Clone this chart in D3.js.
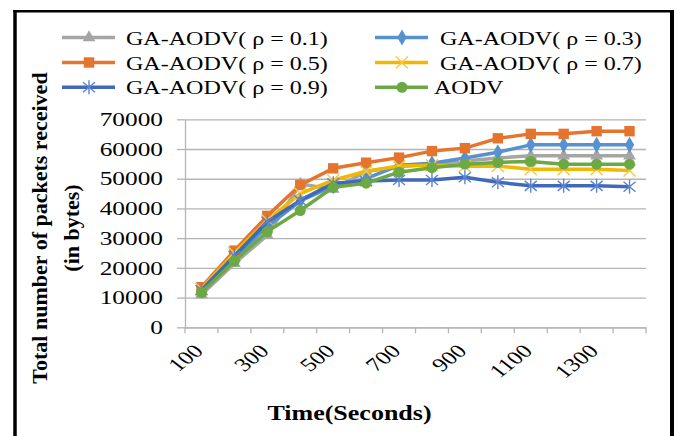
<!DOCTYPE html>
<html lang="en">
<head>
    <meta charset="UTF-8">
    <title>Packets received</title>
    <script src="https://d3js.org/d3.v7.min.js"></script>
    <style>
        body { margin: 0; background: #fff; }
        text { font-family: "Liberation Serif", "Times New Roman", serif; fill: #000; }
    </style>
</head>
<body>

<script>
    // categories (seconds) and axis ticks
    times = [100, 200, 300, 400, 500, 600, 700, 800, 900, 1000, 1100, 1200, 1300, 1400]
    xLabels = [100, 300, 500, 700, 900, 1100, 1300]
    yTicks = [0, 10000, 20000, 30000, 40000, 50000, 60000, 70000]

    // series values
    rho01 = [11000, 21500, 31000, 48200, 46500, 52400, 54000, 55000, 56000, 57000, 57700, 57700, 57700, 57700]
    rho03 = [12500, 23500, 34000, 42500, 47500, 50000, 54500, 55200, 57000, 58900, 61400, 61400, 61400, 61400]
    rho05 = [13500, 25800, 37500, 47900, 53500, 55400, 57100, 59300, 60300, 63600, 65100, 65100, 66000, 66000]
    rho07 = [13000, 25000, 36000, 45000, 49500, 52500, 54300, 54500, 54200, 54300, 53200, 53200, 53200, 52800]
    rho09 = [12500, 24000, 35500, 42700, 48500, 49200, 49600, 49600, 50500, 48800, 47600, 47600, 47600, 47300]
    aodv  = [11700, 22300, 32200, 39300, 47100, 48500, 52200, 53700, 54900, 55500, 55800, 54900, 54900, 54900]

    seriesNames = ["GA-AODV( \u03c1 = 0.1)", "GA-AODV( \u03c1 = 0.3)", "GA-AODV( \u03c1 = 0.5)",
                   "GA-AODV( \u03c1 = 0.7)", "GA-AODV( \u03c1 = 0.9)", "AODV"]
    seriesValues = [rho01, rho03, rho05, rho07, rho09, aodv]
    colors = ["#A5A5A5", "#5592CF", "#E5742F", "#F0B800", "#4169BA", "#6AA943"]
    markers = ["triangle", "diamond", "square", "cross", "star", "circle"]

    series = seriesNames.map((n, i) => ({label: n, values: seriesValues[i], color: colors[i], marker: markers[i]}))

    W = 678
    H = 436
    stretch = 1.3   // text in the picture is drawn wider than normal

    svg = d3.select("body")
        .append("svg")
        .attr("width", W)
        .attr("height", H)

    //outer frame (no bottom edge visible)
    svg.append("line").attr("x1", 15).attr("y1", 10).attr("x2", 15).attr("y2", H)
        .attr("stroke", "#000").attr("stroke-width", 3.5)
    svg.append("line").attr("x1", 13.3).attr("y1", 11.2).attr("x2", 674).attr("y2", 11.2)
        .attr("stroke", "#000").attr("stroke-width", 2.5)
    svg.append("line").attr("x1", 672).attr("y1", 10).attr("x2", 672).attr("y2", H)
        .attr("stroke", "#000").attr("stroke-width", 4)

    //scales
    x = d3.scaleBand()
        .domain(times)
        .range([185, 646])

    y = d3.scaleLinear()
        .domain([0, 70000])
        .range([327.3, 119.3])

    gridColor = "#b4b4b4"

    //gridlines
    svg.append("g")
        .attr("transform", "translate(185,0)")
        .call(d3.axisLeft(y).tickValues(yTicks).tickSize(-(646 - 185)).tickFormat(""))
        .call(g => g.select(".domain").remove())
        .selectAll("line")
        .attr("stroke", gridColor)
        .attr("stroke-width", 1.3)

    //y axis
    yAxis = svg.append("g")
        .attr("transform", "translate(185,0)")
        .call(d3.axisLeft(y).tickValues(yTicks).tickSize(8).tickSizeOuter(0).tickFormat(d3.format("d")))
    yAxis.select(".domain").attr("stroke", gridColor).attr("stroke-width", 1.3)
    yAxis.selectAll(".tick line").attr("stroke", gridColor).attr("stroke-width", 1.3)
    yAxis.selectAll(".tick text")
        .attr("x", 0)
        .attr("font-size", 19.5)
        .attr("fill", "#111")
        .attr("transform", "translate(-22,0) scale(" + stretch + ",1)")

    //x axis
    xAxis = svg.append("g")
        .attr("transform", "translate(0," + y(0) + ")")
        .call(d3.axisBottom(x).tickSize(0).tickSizeOuter(0)
            .tickFormat(d => xLabels.includes(d) ? d : ""))
    xAxis.select(".domain").attr("stroke", gridColor).attr("stroke-width", 1.3)
    xAxis.selectAll(".tick text")
        .attr("y", 0)
        .attr("dy", 0)
        .attr("font-size", 19)
        .attr("fill", "#111")
        .attr("text-anchor", "end")
        .attr("transform", "translate(3,25) scale(" + stretch + ",1) rotate(-45)")

    // tick marks sit between categories
    xAxis.selectAll("line.mark")
        .data(times.map(t => x(t)).concat([x.range()[1]]))
        .join("line")
        .attr("class", "mark")
        .attr("x1", d => d).attr("x2", d => d)
        .attr("y1", 0).attr("y2", 6)
        .attr("stroke", gridColor)
        .attr("stroke-width", 1.3)

    //marker shapes
    function drawMarker(g, type, color) {
        if (type == "triangle") {
            g.append("path").attr("d", d3.symbol(d3.symbolTriangle, 70)()).attr("fill", color)
        } else if (type == "diamond") {
            g.append("path").attr("d", d3.symbol(d3.symbolDiamond, 75)()).attr("fill", color)
        } else if (type == "square") {
            g.append("rect").attr("x", -5.2).attr("y", -5.2).attr("width", 10.4).attr("height", 10.4)
                .attr("fill", color)
        } else if (type == "circle") {
            g.append("circle").attr("r", 5.5).attr("fill", color)
        } else if (type == "cross") {
            g.append("path").attr("d", "M-6,-6L6,6M-6,6L6,-6")
                .attr("stroke", "#F5C842").attr("stroke-width", 1.4).attr("fill", "none")
        } else if (type == "star") {
            g.append("path").attr("d", "M0,-7L0,7M-6,-5L6,5M-6,5L6,-5")
                .attr("stroke", "#5C84CF").attr("stroke-width", 1.4).attr("fill", "none")
        }
    }

    line = d3.line()
        .x((d, i) => x(times[i]) + x.bandwidth() / 2)
        .y(d => y(d))

    //series lines and markers
    series.forEach(s => {
        svg.append("path")
            .datum(s.values)
            .attr("d", line)
            .attr("fill", "none")
            .attr("stroke", s.color)
            .attr("stroke-width", 3.5)
            .attr("stroke-linejoin", "round")

        svg.append("g").selectAll("g")
            .data(s.values)
            .join("g")
            .attr("transform", (d, i) => "translate(" + (x(times[i]) + x.bandwidth() / 2) + "," + y(d) + ")")
            .each(function () { drawMarker(d3.select(this), s.marker, s.color) })
    })

    //legend
    legendRows = [37.5, 62.5, 87.3]
    legendCols = [62, 375]
    series.forEach((s, i) => {
        lx = legendCols[i % 2]
        ly = legendRows[Math.floor(i / 2)]
        g = svg.append("g").attr("transform", "translate(" + lx + "," + ly + ")")
        g.append("line").attr("x1", 0).attr("x2", 53).attr("y1", 0).attr("y2", 0)
            .attr("stroke", s.color).attr("stroke-width", 3.5)
        drawMarker(g.append("g").attr("transform", "translate(27,0)"), s.marker, s.color)
        tx = s.label == "AODV" ? 59 : (i % 2 ? 65 : 64)
        g.append("text")
            .attr("transform", "translate(" + tx + ",7) scale(" + stretch + ",1)")
            .attr("font-size", 18.5)
            .attr("fill", "#111")
            .text(s.label)
    })

    //axis titles
    svg.append("text")
        .attr("transform", "translate(349.5,420) scale(" + stretch + ",1)")
        .attr("text-anchor", "middle")
        .attr("font-size", 20)
        .attr("font-weight", "bold")
        .text("Time(Seconds)")

    svg.append("text")
        .attr("transform", "translate(47,228) rotate(-90)")
        .attr("text-anchor", "middle")
        .attr("font-size", 22)
        .attr("font-weight", "bold")
        .text("Total number of packets received")

    svg.append("text")
        .attr("transform", "translate(79,228) rotate(-90)")
        .attr("text-anchor", "middle")
        .attr("font-size", 22)
        .attr("font-weight", "bold")
        .text("(in bytes)")
</script>

</body>
</html>
